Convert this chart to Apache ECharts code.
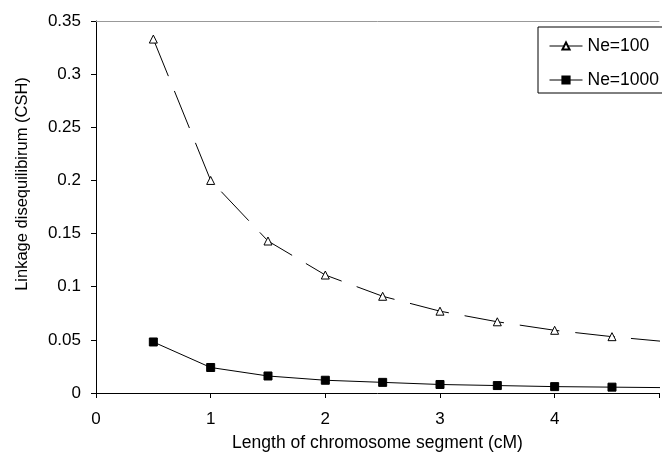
<!DOCTYPE html>
<html>
<head>
<meta charset="utf-8">
<script src="https://cdn.jsdelivr.net/npm/echarts@6/dist/echarts.min.js"></script>
<style>html,body{margin:0;padding:0;background:#fff}#c{width:662px;height:457px}</style>
</head>
<body>
<div id="c"></div>
<script>
var xValues = [0.5, 1, 1.5, 2, 2.5, 3, 3.5, 4, 4.5, 5];
var ne100 = [0.333, 0.2, 0.143, 0.111, 0.091, 0.077, 0.067, 0.059, 0.053, 0.048];
var ne1000 = [0.048, 0.024, 0.016, 0.012, 0.010, 0.008, 0.007, 0.006, 0.0055, 0.005];
var seriesNames = ['Ne=100', 'Ne=1000'];

function pts(vals) {
  return xValues.map(function (x, i) {
    var d = { value: [x, vals[i]] };
    if (i === xValues.length - 1) d.symbol = 'none';
    return d;
  });
}
var font = 'Liberation Sans, Arial, sans-serif';
var chart = echarts.init(document.getElementById('c'));
chart.setOption({
  animation: false,
  backgroundColor: '#fff',
  textStyle: { fontFamily: font, color: '#000' },
  grid: { left: 96, right: 0, top: 21, bottom: 61, containLabel: false },
  legend: {
    orient: 'vertical', left: 538, top: 27,
    padding: [10, 12, 4, 11],
    itemWidth: 33, itemHeight: 9, itemGap: 16,
    borderColor: '#000', borderWidth: 1,
    textStyle: { fontFamily: font, fontSize: 17.5, color: '#000', lineHeight: 16 },
    lineStyle: { type: 'solid', width: 1 },
    data: seriesNames
  },
  xAxis: [{
    type: 'value', min: 0, max: 4.91, interval: 1,
    name: 'Length of chromosome segment (cM)', nameLocation: 'middle', nameGap: 41,
    nameTextStyle: { fontFamily: font, fontSize: 17.5, color: '#000' },
    axisLine: { show: true, lineStyle: { color: '#000', width: 1 } },
    axisTick: { show: true, inside: false, length: 5, lineStyle: { color: '#000' } },
    axisLabel: { fontFamily: font, fontSize: 17, color: '#000', margin: 18,
      formatter: function (v) { return Math.abs(v - Math.round(v)) < 1e-9 ? String(Math.round(v)) : ''; } },
    splitLine: { show: false }
  }, {
    type: 'value', position: 'top', min: 0, max: 4.91,
    axisLine: { show: true, onZero: false, lineStyle: { color: '#999', width: 1 } },
    axisTick: { show: false }, axisLabel: { show: false }, splitLine: { show: false }
  }],
  yAxis: {
    type: 'value', min: 0, max: 0.35, interval: 0.05,
    name: 'Linkage disequilibirum (CSH)', nameLocation: 'middle', nameGap: 65,
    nameTextStyle: { fontFamily: font, fontSize: 16.5, color: '#000', padding: [0, 0, 0, 46] },
    axisLine: { show: true, lineStyle: { color: '#000', width: 1 } },
    axisTick: { show: true, length: 5, lineStyle: { color: '#000' } },
    axisLabel: { fontFamily: font, fontSize: 17, color: '#000', margin: 15,
      formatter: function (v) { return String(parseFloat(v.toFixed(4))); } },
    splitLine: { show: false }
  },
  series: [{
    name: seriesNames[0], type: 'line', data: pts(ne100),
    symbol: 'triangle', symbolSize: 8,
    itemStyle: { color: '#fff', borderColor: '#000', borderWidth: 1 },
    lineStyle: { color: '#000', width: 1, type: [40, 16] }
  }, {
    name: seriesNames[1], type: 'line', data: pts(ne1000),
    symbol: 'rect', symbolSize: 8,
    itemStyle: { color: '#000', borderColor: '#000', borderWidth: 1 },
    lineStyle: { color: '#000', width: 1, type: 'solid' }
  }]
});
</script>
</body>
</html>
